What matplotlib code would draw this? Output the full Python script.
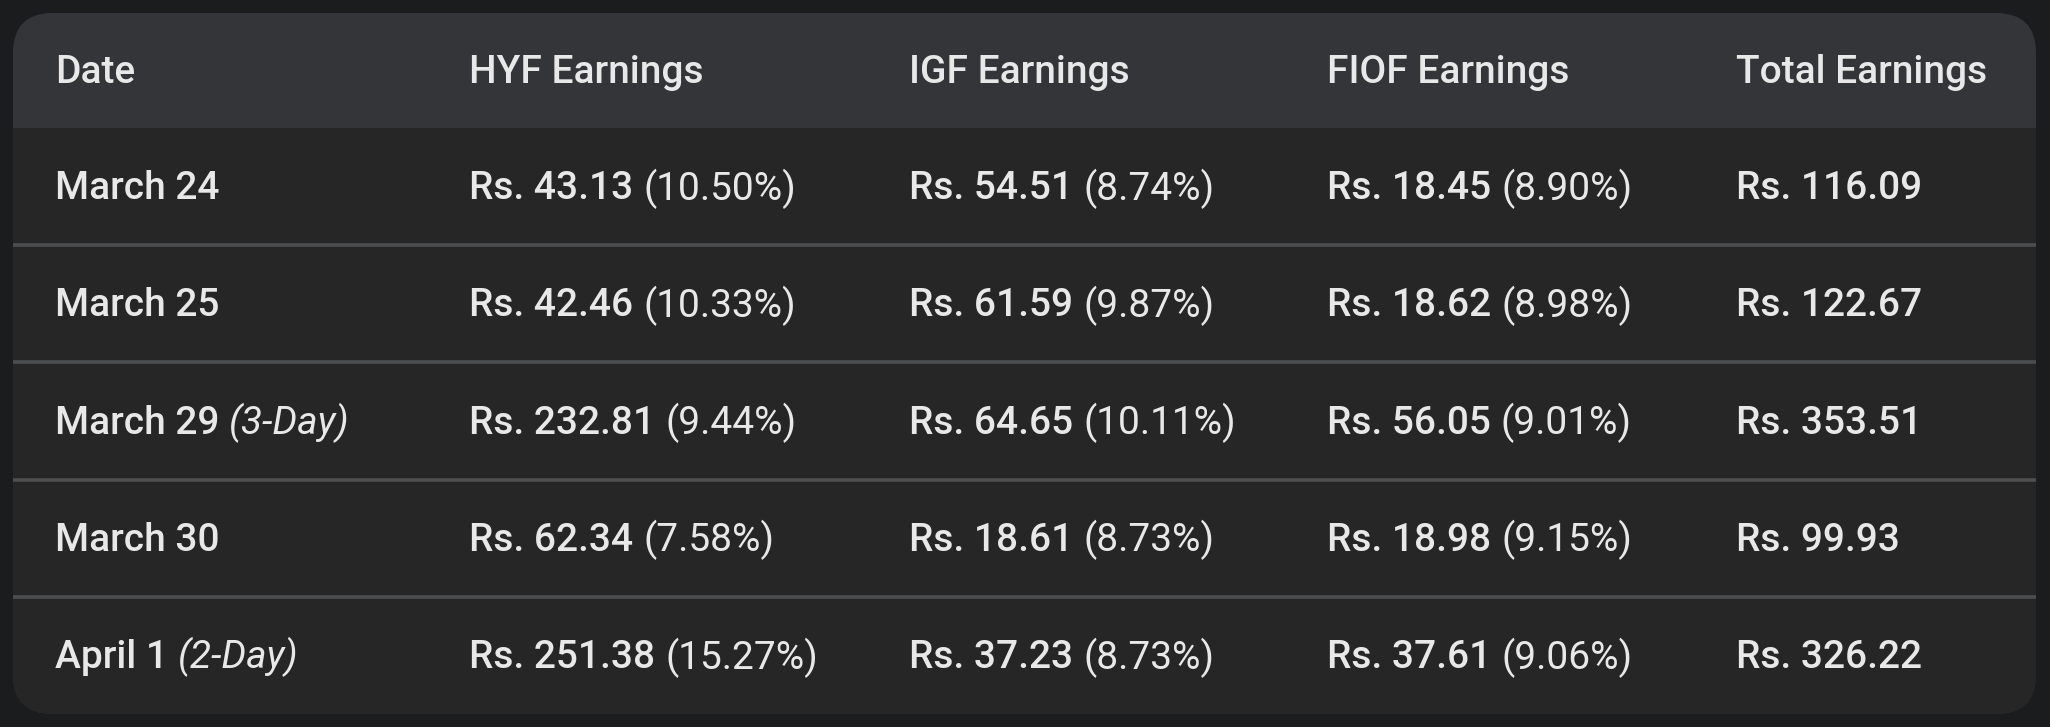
import matplotlib
matplotlib.use("Agg")
from matplotlib import pyplot as plt
from matplotlib.patches import FancyBboxPatch, Rectangle

# table contents
columns = ["Date", "HYF Earnings", "IGF Earnings", "FIOF Earnings", "Total Earnings"]
dates = ["March 24", "March 25", "March 29", "March 30", "April 1"]
date_notes = ["", "", "(3-Day)", "", "(2-Day)"]
hyf = [43.13, 42.46, 232.81, 62.34, 251.38]
hyf_pct = [10.50, 10.33, 9.44, 7.58, 15.27]
igf = [54.51, 61.59, 64.65, 18.61, 37.23]
igf_pct = [8.74, 9.87, 10.11, 8.73, 8.73]
fiof = [18.45, 18.62, 56.05, 18.98, 37.61]
fiof_pct = [8.90, 8.98, 9.01, 9.15, 9.06]
total = [116.09, 122.67, 353.51, 99.93, 326.22]

W, H = 2050, 727
BG = "#1b1c1e"
HEAD = "#333538"
BODY = "#262626"
LINE = "#4d4e4f"
FG = "#e8e8e8"
FONT = "Roboto"
FS = 28

col_x = [55, 469, 909, 1327, 1736]
card = (13, 13, 2023, 701)
head_bottom = 128
row_h = (card[1] + card[3] - head_bottom) / len(dates)

fig = plt.figure(figsize=(W / 100, H / 100), dpi=100, facecolor=BG)
ax = fig.add_axes([0, 0, 1, 1])
ax.set_xlim(0, W)
ax.set_ylim(H, 0)
ax.axis("off")

box = FancyBboxPatch((card[0], card[1]), card[2], card[3],
                     boxstyle="round,pad=0,rounding_size=40",
                     facecolor=HEAD, edgecolor="none")
ax.add_patch(box)
body = Rectangle((0, head_bottom), W, H, facecolor=BODY, edgecolor="none")
ax.add_patch(body)
body.set_clip_path(box)

for i in range(1, len(dates)):
    y = head_bottom + i * row_h
    ax.plot([card[0], card[0] + card[2]], [y, y], color=LINE, lw=2.6,
            solid_capstyle="butt")

renderer = fig.canvas.get_renderer()


def two_part(x, y, first, second, second_style="normal"):
    """Draw a medium-weight text followed by a lighter one."""
    t = ax.text(x, y, first, color=FG, fontsize=FS, family=FONT,
                weight="medium", va="center", ha="left")
    if not second:
        return
    bb = t.get_window_extent(renderer)
    x_end = ax.transData.inverted().transform((bb.x1, bb.y0))[0]
    ax.text(x_end + 10, y, second, color=FG, fontsize=FS, family=FONT,
            weight="normal", style=second_style, va="center", ha="left")


head_y = (card[1] + head_bottom) / 2 + 2
for x, name in zip(col_x, columns):
    ax.text(x, head_y, name, color=FG, fontsize=FS, family=FONT,
            weight="medium", va="center", ha="left")

for i in range(len(dates)):
    y = head_bottom + (i + 0.5) * row_h + 2
    two_part(col_x[0], y, dates[i], date_notes[i], "italic")
    two_part(col_x[1], y, f"Rs. {hyf[i]:.2f}", f"({hyf_pct[i]:.2f}%)")
    two_part(col_x[2], y, f"Rs. {igf[i]:.2f}", f"({igf_pct[i]:.2f}%)")
    two_part(col_x[3], y, f"Rs. {fiof[i]:.2f}", f"({fiof_pct[i]:.2f}%)")
    two_part(col_x[4], y, f"Rs. {total[i]:.2f}", "")

fig.savefig("out.png", dpi=100, facecolor=BG)
